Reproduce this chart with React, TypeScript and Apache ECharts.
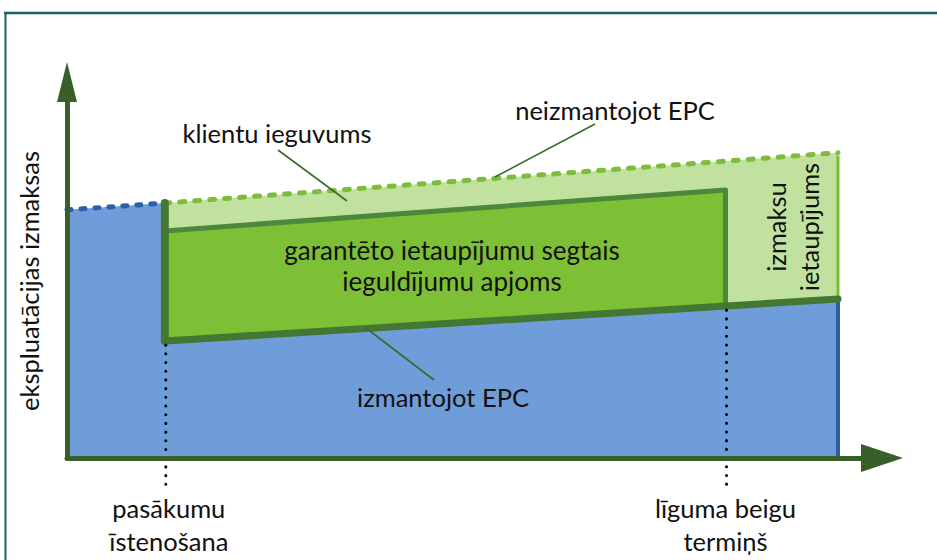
import { useEffect, useRef } from "react";
import * as echarts from "echarts";

// Conceptual scale: time on x (0..100), operating cost on y (0..100)
const withoutEpcX = [0, 12, 94.6];
const withoutEpcY = [66.0, 67.8, 81.2];
const withEpcX = [12, 80.8, 94.6];
const withEpcY = [31.1, 40.4, 42.3];
const guaranteedTopX = [12, 80.8];
const guaranteedTopY = [60.4, 71.3];
const milestoneX = [12, 80.8];
const milestoneBottomY = -7.7;
const milestoneLabels = ["pasākumu\nīstenošana", "līguma beigu\ntermiņš"];

const yTitle = "ekspluatācijas izmaksas";
const lblClient = "klientu ieguvums";
const lblWithout = "neizmantojot EPC";
const lblWith = "izmantojot EPC";
const lblGuarLine1 = "garantēto ietaupījumu segtais";
const lblGuarLine2 = "ieguldījumu apjoms";
const lblSavings = "izmaksu\nietaupījums";

const FONT = "Lato, 'Open Sans', sans-serif";
const FS = 25.5;

export default function App() {
  const ref = useRef<HTMLDivElement>(null);
  useEffect(() => {
    if (!ref.current) return;
    const chart = echarts.init(ref.current, null, { renderer: "svg" });
    const axisColor = "#375f27";
    const option: any = {
      animation: false,
      backgroundColor: "#ffffff",
      grid: { left: 67, right: 55, top: 82, bottom: 102 },
      xAxis: {
        type: "value",
        min: 0,
        max: 100,
        z: 5,
        axisLine: {
          show: true,
          onZero: false,
          symbol: ["none", "triangle"],
          symbolSize: [28, 42],
          lineStyle: { color: axisColor, width: 5 },
        },
        axisTick: { show: false },
        axisLabel: { show: false },
        splitLine: { show: false },
      },
      yAxis: {
        type: "value",
        min: 0,
        max: 100,
        z: 5,
        axisLine: {
          show: true,
          onZero: false,
          symbol: ["none", "triangle"],
          symbolSize: [20, 40],
          lineStyle: { color: axisColor, width: 5 },
        },
        axisTick: { show: false },
        axisLabel: { show: false },
        splitLine: { show: false },
      },
      series: [
        {
          type: "custom",
          clip: false,
          data: [[0, 0]],
          renderItem: (_params: any, api: any) => {
            const c = (x: number, y: number) => api.coord([x, y]);
            const w0 = c(withoutEpcX[0], withoutEpcY[0]);
            const w1 = c(withoutEpcX[1], withoutEpcY[1]);
            const w2 = c(withoutEpcX[2], withoutEpcY[2]);
            const e0 = c(withEpcX[0], withEpcY[0]);
            const e1 = c(withEpcX[1], withEpcY[1]);
            const e2 = c(withEpcX[2], withEpcY[2]);
            const g0 = c(guaranteedTopX[0], guaranteedTopY[0]);
            const g1 = c(guaranteedTopX[1], guaranteedTopY[1]);
            const o0 = c(withoutEpcX[0], 0);
            const oEnd = c(withEpcX[2], 0);
            const children: any[] = [];
            // blue area
            children.push({
              type: "polygon",
              shape: { points: [o0, w0, w1, e0, e2, oEnd] },
              style: { fill: "#6f9dd9" },
            });
            // light green savings area
            children.push({
              type: "polygon",
              shape: { points: [w1, w2, e2, e0] },
              style: { fill: "#c0e29e" },
            });
            // guaranteed savings box
            children.push({
              type: "polygon",
              shape: { points: [g0, g1, e1, e0] },
              style: { fill: "#7dbf35", stroke: "#4c873b", lineWidth: 5, lineJoin: "round" },
            });
            // dashed baseline before implementation (blue)
            children.push({
              type: "polyline",
              shape: { points: [w0, w1] },
              style: { stroke: "#2c5fab", lineWidth: 5, lineDash: [4, 10], lineCap: "round", fill: null },
            });
            // dashed baseline without EPC (green)
            children.push({
              type: "polyline",
              shape: { points: [w1, w2] },
              style: { stroke: "#7dbd3a", lineWidth: 5, lineDash: [5, 10], lineCap: "round", fill: null },
            });
            // right edge of savings area
            children.push({
              type: "line",
              shape: { x1: w2[0], y1: w2[1] + 3, x2: e2[0], y2: e2[1] },
              style: { stroke: "#7dbb35", lineWidth: 3 },
            });
            // right edge of blue area
            children.push({
              type: "line",
              shape: { x1: e2[0], y1: e2[1], x2: oEnd[0], y2: oEnd[1] },
              style: { stroke: "#2e5ea6", lineWidth: 4, lineCap: "round" },
            });
            // implementation step edge
            children.push({
              type: "line",
              shape: { x1: w1[0], y1: w1[1], x2: e0[0], y2: e0[1] },
              style: { stroke: "#447634", lineWidth: 8, lineCap: "round" },
            });
            // with-EPC line
            children.push({
              type: "polyline",
              shape: { points: [e0, e1, e2] },
              style: { stroke: "#447634", lineWidth: 7, lineCap: "round", fill: null },
            });
            // milestone dotted lines & labels
            const milestoneTop = [withEpcY[0], withEpcY[1]];
            milestoneX.forEach((mx, i) => {
              const top = c(mx, milestoneTop[i]);
              const bot = c(mx, milestoneBottomY);
              children.push({
                type: "line",
                shape: { x1: top[0] + 1, y1: top[1] + 4, x2: bot[0] + 1, y2: bot[1] },
                style: { stroke: "#000", lineWidth: 3, lineDash: [0.1, 8.6], lineCap: "round" },
              });
              children.push({
                type: "text",
                x: bot[0] + (i === 0 ? 4 : 0),
                y: bot[1] + 38,
                style: {
                  text: milestoneLabels[i],
                  fontFamily: FONT,
                  fontSize: FS,
                  lineHeight: 33,
                  fill: "#111",
                  align: "center",
                  verticalAlign: "middle",
                },
              });
            });
            return { type: "group", children };
          },
        },
      ],
      graphic: [
        // frame
        { type: "line", shape: { x1: 4, y1: 13, x2: 937, y2: 13 }, style: { stroke: "#1b5f69", lineWidth: 2.5 }, z: 100 },
        { type: "line", shape: { x1: 5.5, y1: 13, x2: 5.5, y2: 560 }, style: { stroke: "#1b5f69", lineWidth: 2 }, z: 100 },
        // leader lines
        { type: "line", shape: { x1: 278, y1: 150, x2: 347, y2: 201 }, style: { stroke: "#3a6a2a", lineWidth: 1.6 }, z: 100 },
        { type: "line", shape: { x1: 595, y1: 124, x2: 495, y2: 177 }, style: { stroke: "#3a6a2a", lineWidth: 1.6 }, z: 100 },
        { type: "line", shape: { x1: 366, y1: 328, x2: 434, y2: 380 }, style: { stroke: "#3a6a2a", lineWidth: 1.6 }, z: 100 },
        // texts
        {
          type: "text", x: 29, y: 281, rotation: Math.PI / 2, z: 100,
          style: { text: yTitle, fontFamily: FONT, fontSize: FS, fill: "#111", align: "center", verticalAlign: "middle" },
        },
        {
          type: "text", x: 277, y: 133, z: 100,
          style: { text: lblClient, fontFamily: FONT, fontSize: FS, fill: "#111", align: "center", verticalAlign: "middle" },
        },
        {
          type: "text", x: 615, y: 110, z: 100,
          style: { text: lblWithout, fontFamily: FONT, fontSize: FS, fill: "#111", align: "center", verticalAlign: "middle" },
        },
        {
          type: "text", x: 443, y: 397, z: 100,
          style: { text: lblWith, fontFamily: FONT, fontSize: FS, fill: "#111", align: "center", verticalAlign: "middle" },
        },
        {
          type: "text", x: 452, y: 250, z: 100,
          style: { text: lblGuarLine1, fontFamily: FONT, fontSize: 26, fill: "#111", align: "center", verticalAlign: "middle" },
        },
        {
          type: "text", x: 452, y: 281, z: 100,
          style: { text: lblGuarLine2, fontFamily: FONT, fontSize: 26, fill: "#111", align: "center", verticalAlign: "middle" },
        },
        {
          type: "text", x: 792, y: 227, rotation: Math.PI / 2, z: 100,
          style: { text: lblSavings, fontFamily: FONT, fontSize: FS, lineHeight: 33, fill: "#111", align: "center", verticalAlign: "middle" },
        },
      ],
    };
    chart.setOption(option);
    return () => chart.dispose();
  }, []);
  return <div ref={ref} style={{ position: "fixed", left: 0, top: 0, width: 937, height: 560 }} />;
}
